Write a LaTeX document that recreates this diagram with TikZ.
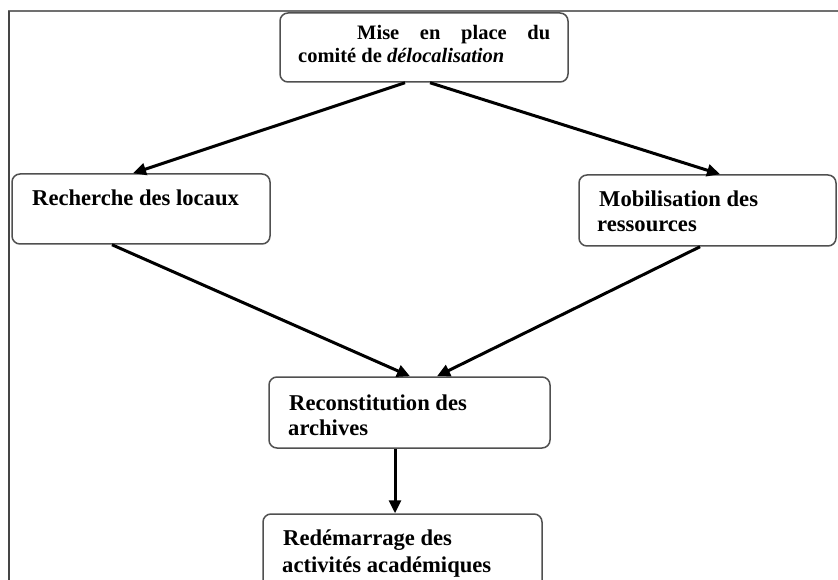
\documentclass[tikz,border=0pt]{standalone}
\usepackage{fontspec}
\setmainfont{Liberation Serif}
\usetikzlibrary{arrows.meta,calc}
\definecolor{boxgray}{HTML}{505050}
\definecolor{framegray}{HTML}{707070}
\definecolor{frameleft}{HTML}{454545}
\begin{document}
\begin{tikzpicture}[x=1pt,y=-1pt,
  box/.style={draw=boxgray, line width=1.5pt, rounded corners=8pt, inner sep=0pt},
  lbl/.style={anchor=base west, inner sep=0pt, font=\bfseries\fontsize{22.6}{25}\selectfont},
  toplbl/.style={anchor=base west, inner sep=0pt, font=\bfseries\fontsize{20.5}{23}\selectfont},
  arr/.style={-{Triangle[length=13pt,width=12pt]}, line width=3pt, black}]
\useasboundingbox (0,0) rectangle (838,580);
\clip (0,0) rectangle (838,580);
\fill[white] (0,0) rectangle (838,580);
% frame
\draw[framegray, line width=2pt] (8,11) -- (838,11);
\draw[frameleft, line width=2pt] (9,11) -- (9,580);
% boxes
\node[box, minimum width=288pt, minimum height=69pt] (top) at (424,47.5) {};
\node[box, minimum width=258pt, minimum height=70pt] (left) at (141,209) {};
\node[box, minimum width=257pt, minimum height=71pt] (right) at (707.5,210.5) {};
\node[box, minimum width=281pt, minimum height=71pt] (mid) at (409.5,412.5) {};
\node[box, minimum width=279pt, minimum height=86pt] (bot) at (402.5,557) {};
% texts
\node[toplbl] (t1) at (357,40) {\makebox[193pt][s]{Mise en place du}};
\node[toplbl] (t2) at (298,63) {comité de \textit{délocalisation}};
\node[lbl] (l1) at (32,206) {Recherche des locaux};
\node[lbl] (r1) at (599,207) {Mobilisation des};
\node[lbl] (r2) at (597,232) {ressources};
\node[lbl] (m1) at (289,410) {Reconstitution des};
\node[lbl] (m2) at (288,435) {archives};
\node[lbl] (b1) at (283,545) {Redémarrage des};
\node[lbl] (b2) at (282,572) {activités académiques};
% arrows
\draw[arr] ([xshift=-19pt]top.south) -- ([xshift=-8pt]left.north);
\draw[arr] ([xshift=6pt]top.south) -- ([xshift=12.5pt]right.north);
\draw[arr] ([xshift=-29pt]left.south) -- ([xshift=0.5pt]mid.north);
\draw[arr] ([xshift=-7.5pt]right.south) -- ([xshift=27.5pt]mid.north);
\draw[arr] ([xshift=-14.5pt]mid.south) -- ([xshift=-7.5pt]bot.north);
\end{tikzpicture}
\end{document}
